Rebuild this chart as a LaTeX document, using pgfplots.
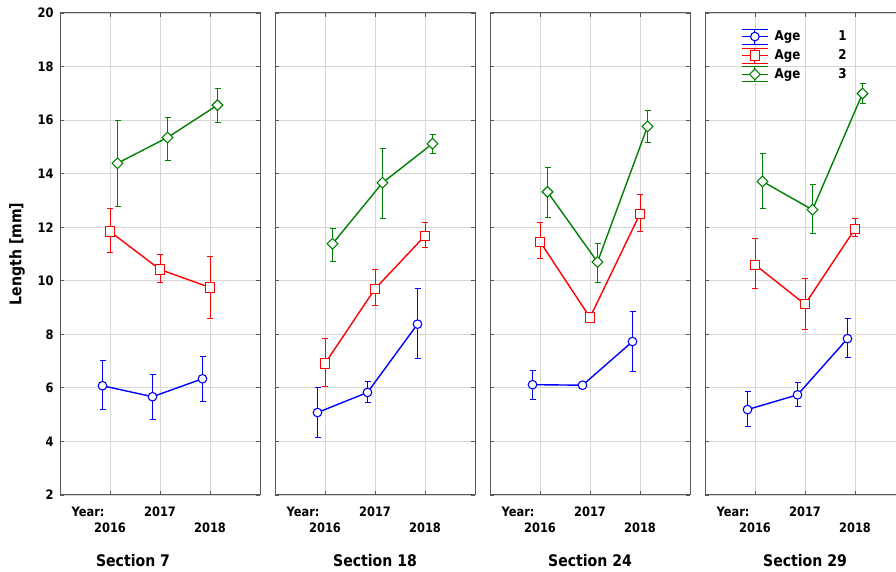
\documentclass[border=0pt]{standalone}
\usepackage{pgfplots}
\pgfplotsset{compat=1.18}
\usepackage{fontspec}
\setmainfont{DejaVu Sans}[FakeStretch=0.88]
\definecolor{cblue}{RGB}{0,0,255}
\definecolor{cred}{RGB}{255,0,0}
\definecolor{cgreen}{RGB}{0,128,0}
\newcommand\tickfont{\bfseries\fontsize{13}{15}\selectfont}
\newcommand\legfont{\bfseries\fontsize{13.5}{15}\selectfont}
\newcommand\sectfont{\bfseries\fontsize{16}{19}\selectfont}
\pgfplotsset{
  table/x=x, table/y=y, table/y error plus=ep, table/y error minus=em, table/row sep=\\,
  panel/.style={
    width=200pt, height=482pt, scale only axis,
    xmin=0, xmax=4, ymin=2, ymax=20,
    xtick={1,2,3}, ytick={2,4,...,20},
    xticklabels={{\raisebox{-16pt}{2016}},2017,{\raisebox{-16pt}{2018}}},
    xticklabel style={anchor=base, yshift=-22pt, font=\tickfont},
    yticklabel style={font=\tickfont, xshift=-3pt},
    grid=major, major grid style={black!16, line width=0.8pt},
    axis line style={black!65, line width=1pt},
    tick align=inside, tick pos=both, major tick length=4pt,
    every tick/.style={black!65, line width=0.8pt},
    /pgf/number format/assume math mode=true,
    clip=false,
  },
  ebars/.style={error bars/y dir=both, error bars/y explicit,
    error bars/error bar style={line width=0.9pt},
    error bars/error mark options={rotate=90, mark size=3pt, line width=0.9pt}},
  s1/.style={cblue, line width=1.4pt, mark=*, mark size=4.3pt, mark options={fill=white, line width=1.1pt}, ebars},
  s2/.style={cred, line width=1.4pt, mark=square*, mark size=4.6pt, mark options={fill=white, line width=1.1pt}, ebars},
  s3/.style={cgreen, line width=1.4pt, mark=square*, mark size=3.8pt, mark options={fill=white, rotate=45, line width=1.1pt}, ebars},
}
\begin{document}
\begin{tikzpicture}
% ---------------- Section 7
\begin{axis}[panel, at={(60pt,0pt)}, anchor=south west]
\addplot[s1] table {x y ep em\\ 0.85 6.08 0.94 0.90\\ 1.85 5.67 0.85 0.83\\ 2.85 6.34 0.85 0.83\\};
\addplot[s2] table {x y ep em\\ 1 11.84 0.85 0.77\\ 2 10.42 0.55 0.48\\ 3 9.75 1.17 1.14\\};
\addplot[s3] table {x y ep em\\ 1.15 14.39 1.61 1.61\\ 2.15 15.35 0.75 0.85\\ 3.15 16.56 0.63 0.63\\};
\node[anchor=base west, yshift=-22pt, font=\tickfont] at (rel axis cs:0.04,0) {Year:};
\node[anchor=base, yshift=-72pt, font=\sectfont] at (rel axis cs:0.365,0) {Section 7};
\end{axis}
% ---------------- Section 18
\begin{axis}[panel, at={(275pt,0pt)}, anchor=south west, yticklabels={}]
\addplot[s1] table {x y ep em\\ 0.85 5.08 0.92 0.93\\ 1.85 5.83 0.41 0.37\\ 2.85 8.38 1.35 1.29\\};
\addplot[s2] table {x y ep em\\ 1 6.91 0.95 0.87\\ 2 9.70 0.73 0.64\\ 3 11.68 0.49 0.43\\};
\addplot[s3] table {x y ep em\\ 1.15 11.38 0.59 0.64\\ 2.15 13.66 1.29 1.35\\ 3.15 15.12 0.33 0.36\\};
\node[anchor=base west, yshift=-22pt, font=\tickfont] at (rel axis cs:0.04,0) {Year:};
\node[anchor=base, yshift=-72pt, font=\sectfont] at (rel axis cs:0.5,0) {Section 18};
\end{axis}
% ---------------- Section 24
\begin{axis}[panel, at={(490pt,0pt)}, anchor=south west, yticklabels={}]
\addplot[s1] table {x y ep em\\ 0.85 6.12 0.54 0.55\\ 1.85 6.10 0.03 0.03\\ 2.85 7.73 1.14 1.12\\};
\addplot[s2] table {x y ep em\\ 1 11.46 0.71 0.64\\ 2 8.63 0.08 0.08\\ 3 12.50 0.71 0.64\\};
\addplot[s3] table {x y ep em\\ 1.15 13.32 0.90 0.96\\ 2.15 10.70 0.70 0.76\\ 3.15 15.76 0.59 0.60\\};
\node[anchor=base west, yshift=-22pt, font=\tickfont] at (rel axis cs:0.04,0) {Year:};
\node[anchor=base, yshift=-72pt, font=\sectfont] at (rel axis cs:0.5,0) {Section 24};
\end{axis}
% ---------------- Section 29
\begin{axis}[panel, at={(705pt,0pt)}, anchor=south west, yticklabels={},
  legend style={at={(rel axis cs:0.18,0.968)}, anchor=north west, draw=none, fill=none,
    font=\legfont, row sep=3pt, inner sep=0pt,
    /tikz/every even column/.append style={column sep=6pt}},
  legend cell align=left,
  legend image code/.code={
    \draw[#1, mark=none, line width=0.9pt] (0pt,-7.5pt)--(26pt,-7.5pt) (0pt,7.5pt)--(26pt,7.5pt) (13pt,-7.5pt)--(13pt,7.5pt);
    \draw[mark repeat=2, mark phase=2, #1] plot coordinates {(0pt,0pt) (13pt,0pt) (26pt,0pt)};
  }]
\addplot[s1] table {x y ep em\\ 0.85 5.19 0.68 0.63\\ 1.85 5.74 0.47 0.45\\ 2.85 7.84 0.75 0.71\\};
\addlegendentry{\hspace*{4pt}Age\hspace{38pt}1}
\addplot[s2] table {x y ep em\\ 1 10.60 0.99 0.87\\ 2 9.12 0.95 0.92\\ 3 11.94 0.40 0.29\\};
\addlegendentry{\hspace*{4pt}Age\hspace{38pt}2}
\addplot[s3] table {x y ep em\\ 1.15 13.71 1.03 1.01\\ 2.15 12.65 0.93 0.90\\ 3.15 16.99 0.38 0.36\\};
\addlegendentry{\hspace*{4pt}Age\hspace{38pt}3}
\node[anchor=base west, yshift=-22pt, font=\tickfont] at (rel axis cs:0.04,0) {Year:};
\node[anchor=base, yshift=-72pt, font=\sectfont] at (rel axis cs:0.5,0) {Section 29};
\end{axis}
\node[rotate=90, font=\sectfont] at (17pt,241pt) {Length [mm]};
\pgfresetboundingbox
\path[use as bounding box] (0pt,-77pt) rectangle (896pt,495pt);
\end{tikzpicture}
\end{document}
